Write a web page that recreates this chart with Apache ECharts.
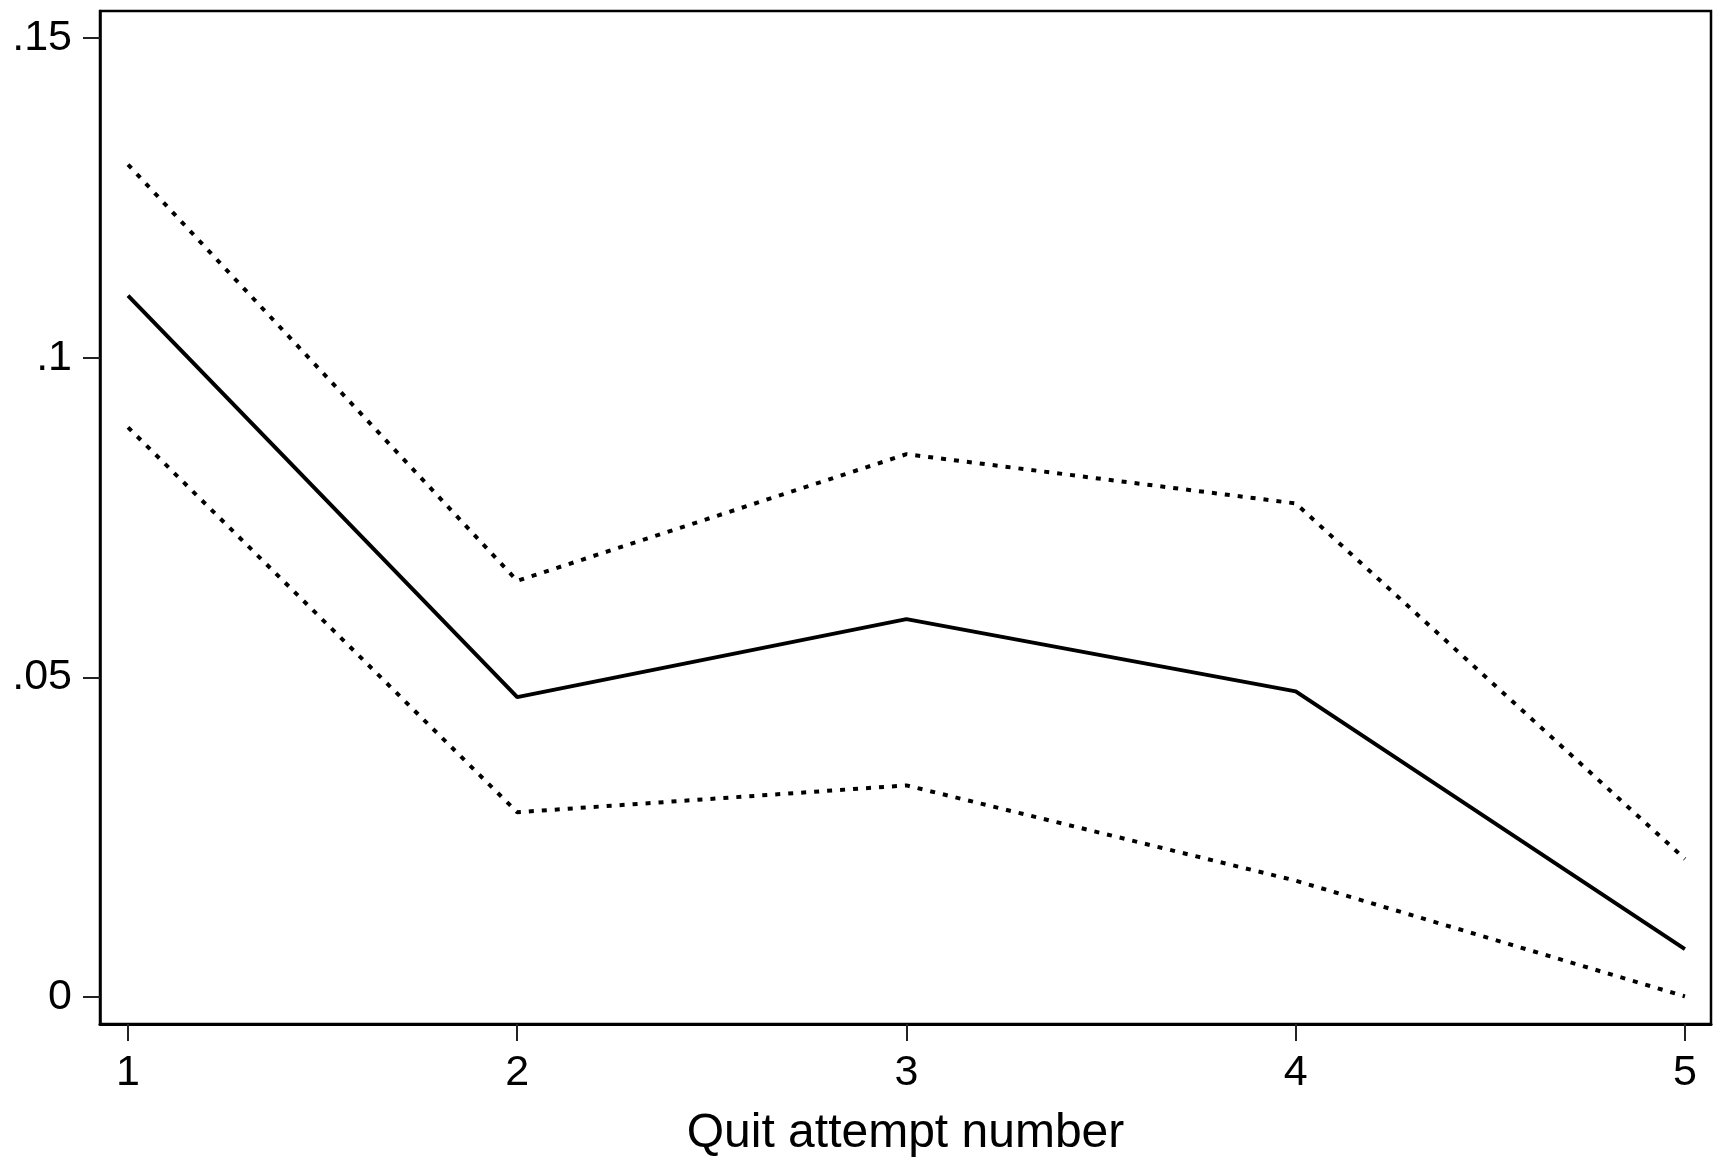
<!DOCTYPE html>
<html>
<head>
<meta charset="utf-8">
<script src="https://cdn.jsdelivr.net/npm/echarts@6/dist/echarts.min.js"></script>
<style>
html,body{margin:0;padding:0;background:#fff;}
#chart{width:1723px;height:1168px;}
</style>
</head>
<body>
<div id="chart"></div>
<script>
const attempts = [1, 2, 3, 4, 5];
const estimate = [0.1097, 0.0469, 0.0591, 0.0478, 0.0075];
const upperCI = [0.1302, 0.0651, 0.0849, 0.0772, 0.0216];
const lowerCI = [0.0891, 0.0289, 0.0331, 0.0182, 0.0001];
const yTickValues = [0, 0.05, 0.1, 0.15];
const yTickLabels = ['0', '.05', '.1', '.15'];
const xTickValues = [1, 2, 3, 4, 5];
const xTitle = 'Quit attempt number';

const pairs = arr => attempts.map((x, i) => [x, arr[i]]);
const FONT = '"Liberation Sans", Arial, Helvetica, sans-serif';

const chart = echarts.init(document.getElementById('chart'), null, {renderer: 'canvas'});
chart.setOption({
  backgroundColor: '#fff',
  animation: false,
  grid: {
    left: 100, right: 12, top: 11, bottom: 144,
    show: true, borderColor: '#000', borderWidth: 2.5, backgroundColor: 'transparent'
  },
  xAxis: {
    type: 'value',
    min: 0.928, max: 5.067,
    name: xTitle,
    nameLocation: 'middle',
    nameGap: 86,
    nameTextStyle: {fontFamily: FONT, fontSize: 48, color: '#000'},
    axisLine: {show: true, onZero: false, lineStyle: {color: '#000', width: 3}},
    axisTick: {show: true, inside: false, customValues: xTickValues, length: 17, lineStyle: {color: '#222', width: 2}},
    axisLabel: {show: true, customValues: xTickValues, margin: 28, fontFamily: FONT, fontSize: 43, color: '#000',
      formatter: v => String(v)},
    splitLine: {show: false}
  },
  yAxis: {
    type: 'value',
    min: -0.00422, max: 0.15422,
    axisLine: {show: true, onZero: false, lineStyle: {color: '#000', width: 2.5}},
    axisTick: {show: true, inside: false, customValues: yTickValues, length: 17, lineStyle: {color: '#222', width: 2}},
    axisLabel: {show: true, customValues: yTickValues, margin: 28, fontFamily: FONT, fontSize: 43, color: '#000',
      formatter: v => {
        const i = yTickValues.findIndex(t => Math.abs(t - v) < 1e-9);
        return i >= 0 ? yTickLabels[i] : '';
      }},
    splitLine: {show: false}
  },
  series: [
    {type: 'line', data: pairs(upperCI), symbol: 'none', lineStyle: {color: '#000', width: 4, type: [5, 8]}},
    {type: 'line', data: pairs(estimate), symbol: 'none', lineStyle: {color: '#000', width: 4, type: 'solid'}},
    {type: 'line', data: pairs(lowerCI), symbol: 'none', lineStyle: {color: '#000', width: 4, type: [5, 8]}}
  ]
});
</script>
</body>
</html>
